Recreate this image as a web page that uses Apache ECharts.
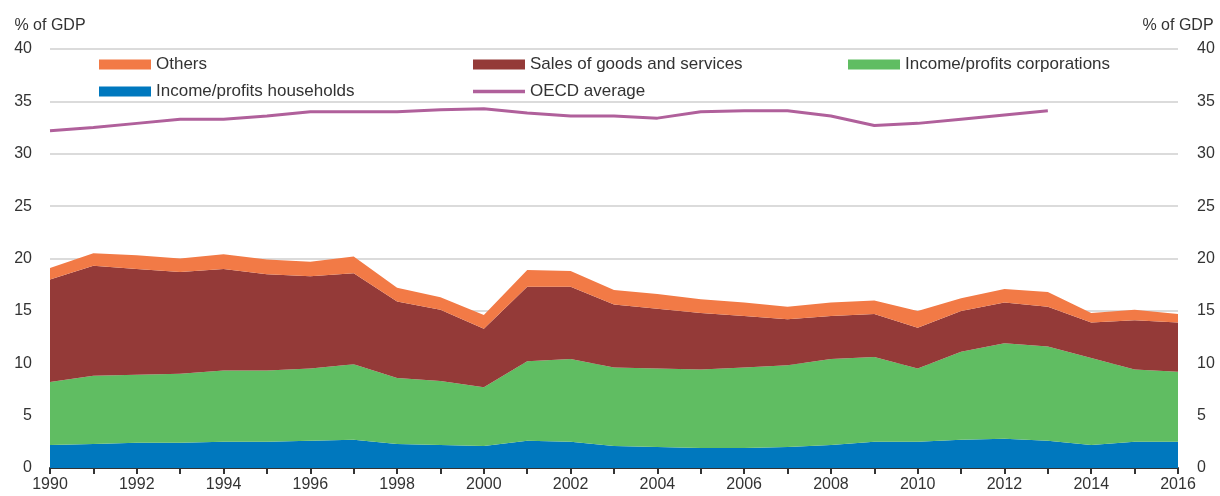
<!DOCTYPE html>
<html>
<head>
<meta charset="utf-8">
<script src="https://cdn.jsdelivr.net/npm/echarts@6/dist/echarts.min.js"></script>
<style>
  html, body { margin: 0; padding: 0; background: #fff; }
  #chart { width: 1220px; height: 496px; }
</style>
</head>
<body>
<div id="chart"></div>
<script>
// years on the x axis
const years = [];
for (let y = 1990; y <= 2016; y++) years.push(String(y));

// % of GDP
const households = [2.2, 2.3, 2.4, 2.4, 2.5, 2.5, 2.6, 2.7, 2.3, 2.2, 2.1, 2.6, 2.5, 2.1, 2.0, 1.9, 1.9, 2.0, 2.2, 2.5, 2.5, 2.7, 2.8, 2.6, 2.2, 2.5, 2.5];
const corporations = [6.0, 6.5, 6.5, 6.6, 6.8, 6.8, 6.9, 7.2, 6.3, 6.1, 5.6, 7.6, 7.9, 7.5, 7.5, 7.5, 7.7, 7.8, 8.2, 8.1, 7.0, 8.4, 9.1, 9.0, 8.3, 6.9, 6.7];
const sales = [9.8, 10.5, 10.1, 9.7, 9.7, 9.2, 8.8, 8.7, 7.3, 6.8, 5.6, 7.1, 6.9, 6.0, 5.7, 5.4, 4.9, 4.4, 4.1, 4.1, 3.9, 3.9, 3.9, 3.8, 3.4, 4.7, 4.7];
const others = [1.1, 1.2, 1.3, 1.3, 1.4, 1.4, 1.4, 1.6, 1.3, 1.2, 1.3, 1.6, 1.5, 1.4, 1.4, 1.3, 1.3, 1.2, 1.3, 1.3, 1.6, 1.2, 1.3, 1.4, 0.9, 1.0, 0.8];
const oecdAverage = [32.2, 32.5, 32.9, 33.3, 33.3, 33.6, 34.0, 34.0, 34.0, 34.2, 34.3, 33.9, 33.6, 33.6, 33.4, 34.0, 34.1, 34.1, 33.6, 32.7, 32.9, 33.3, 33.7, 34.1];

const ORANGE = '#F27A46';
const DARKRED = '#943A38';
const GREEN = '#60BD62';
const BLUE = '#0078BE';
const PURPLE = '#B0609B';

const chart = echarts.init(document.getElementById('chart'));

const fontFamily = '"Liberation Sans", Arial, sans-serif';
const FS = 16;
const legendBase = {
  padding: 0,
  itemWidth: 52,
  itemHeight: 10,
  itemGap: 5,
  textStyle: { fontSize: 17, color: '#333', fontFamily: fontFamily },
  selectedMode: false
};

function areaSeries(name, data, color) {
  return {
    name: name,
    type: 'line',
    stack: 'total',
    data: data,
    symbol: 'none',
    lineStyle: { width: 0 },
    areaStyle: { color: color, opacity: 1 },
    itemStyle: { color: color }
  };
}

const options = {
  animation: false,
  textStyle: { fontFamily: fontFamily },
  grid: { left: 50, right: 42, top: 49, bottom: 28 },
  legend: [
    Object.assign({}, legendBase, { left: 99, top: 56, data: [{ name: 'Others', icon: 'rect' }] }),
    Object.assign({}, legendBase, { left: 473, top: 56, data: [{ name: 'Sales of goods and services', icon: 'rect' }] }),
    Object.assign({}, legendBase, { left: 848, top: 56, data: [{ name: 'Income/profits corporations', icon: 'rect' }] }),
    Object.assign({}, legendBase, { left: 99, top: 83, data: [{ name: 'Income/profits households', icon: 'rect' }] }),
    Object.assign({}, legendBase, { left: 473, top: 83, itemHeight: 3.5, data: [{ name: 'OECD average', icon: 'rect' }] })
  ],
  xAxis: {
    type: 'category',
    data: years,
    boundaryGap: false,
    axisLine: { lineStyle: { color: '#333', width: 2 } },
    axisTick: { show: true, interval: 0, length: 6, lineStyle: { color: '#333', width: 2 } },
    axisLabel: { interval: 1, fontSize: FS, color: '#333', margin: 9 },
    splitLine: { show: false }
  },
  yAxis: [
    {
      type: 'value',
      min: 0,
      max: 40,
      interval: 5,
      position: 'left',
      name: '% of GDP',
      nameGap: 15,
      nameTextStyle: { fontSize: FS, color: '#333' },
      axisLine: { show: false },
      axisTick: { show: false },
      axisLabel: { fontSize: FS, color: '#333', margin: 18 },
      splitLine: { lineStyle: { color: '#cfcfcf', width: 1.5 } }
    },
    {
      type: 'value',
      min: 0,
      max: 40,
      interval: 5,
      position: 'right',
      name: '% of GDP',
      nameGap: 15,
      nameTextStyle: { fontSize: FS, color: '#333' },
      axisLine: { show: false },
      axisTick: { show: false },
      axisLabel: { fontSize: FS, color: '#333', margin: 19 },
      splitLine: { show: false }
    }
  ],
  series: [
    areaSeries('Income/profits households', households, BLUE),
    areaSeries('Income/profits corporations', corporations, GREEN),
    areaSeries('Sales of goods and services', sales, DARKRED),
    areaSeries('Others', others, ORANGE),
    {
      name: 'OECD average',
      type: 'line',
      data: oecdAverage,
      symbol: 'none',
      lineStyle: { color: PURPLE, width: 3 },
      itemStyle: { color: PURPLE }
    }
  ]
};

chart.setOption(options);
</script>
</body>
</html>
